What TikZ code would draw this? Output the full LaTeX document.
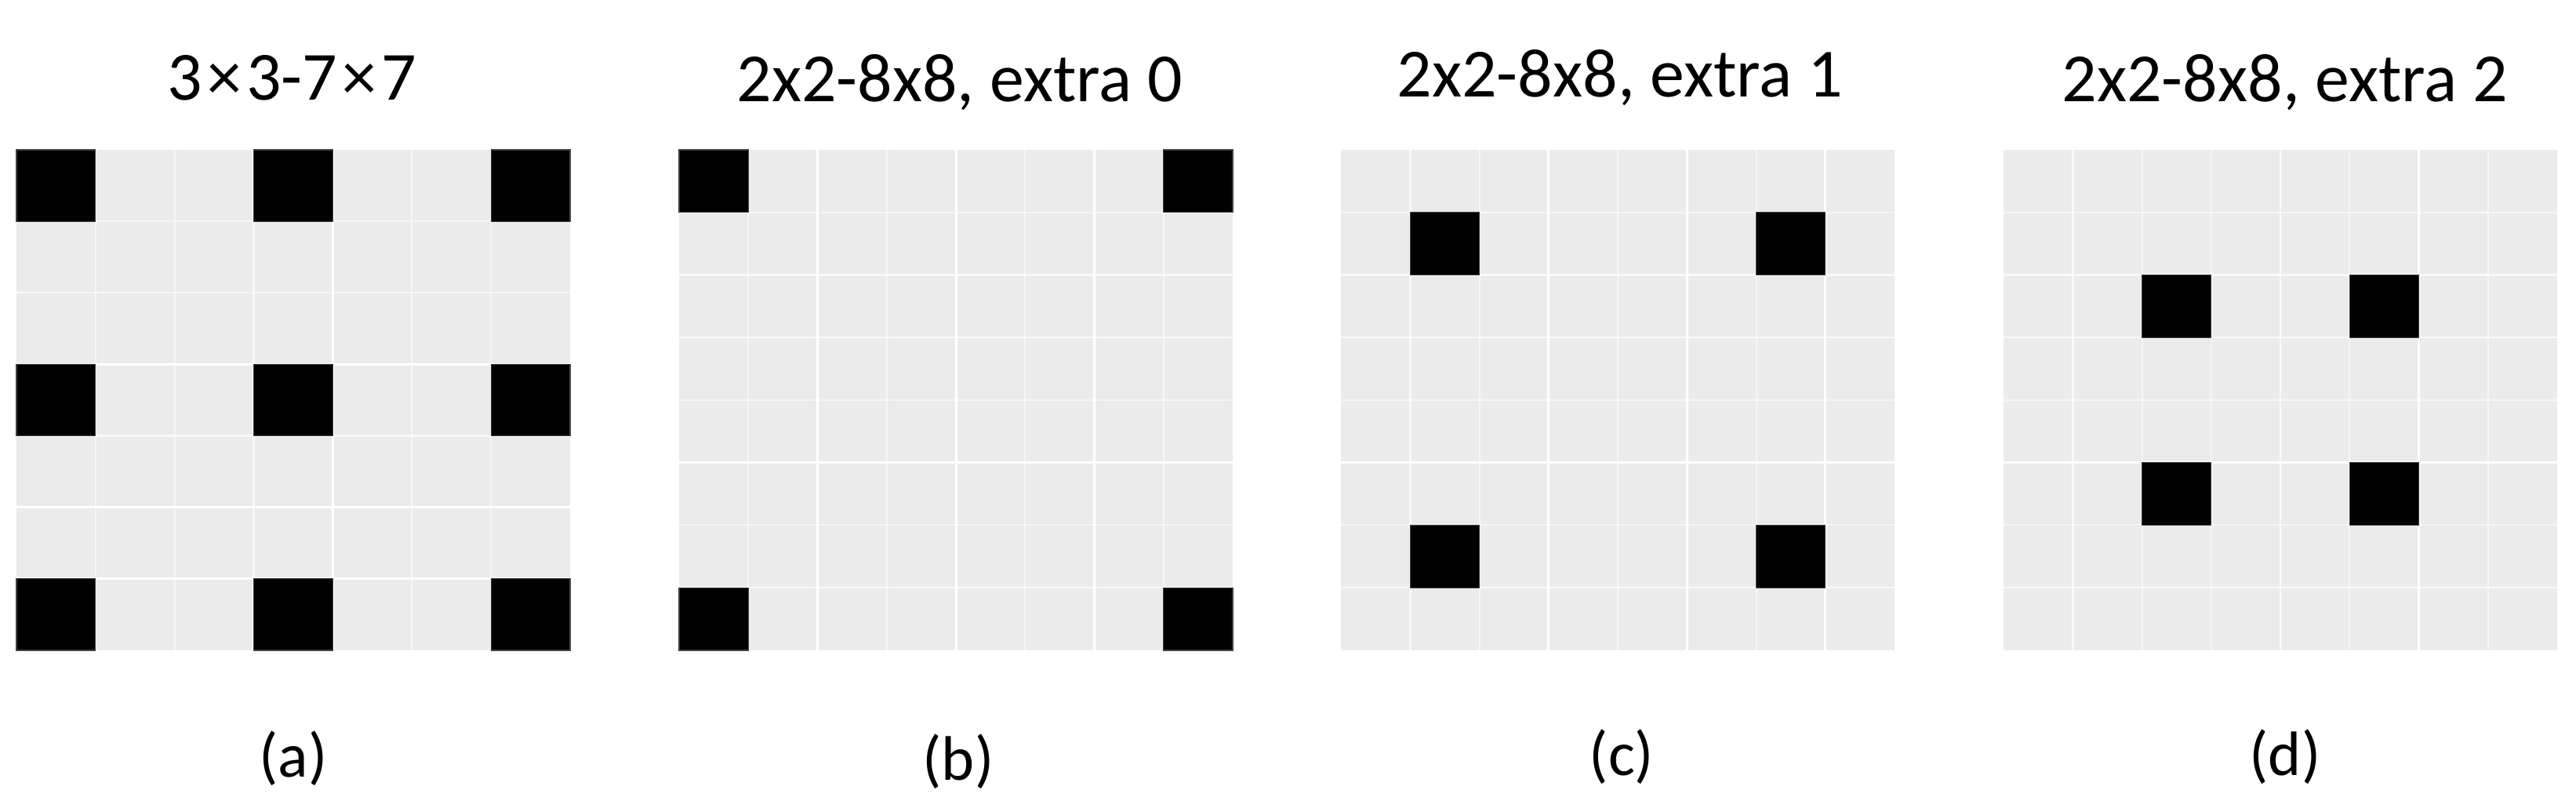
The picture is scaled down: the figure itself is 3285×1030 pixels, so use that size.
\documentclass[tikz,border=0pt]{standalone}
\usepackage{fontspec}
\setmainfont{Carlito}
\definecolor{gridgray}{RGB}{235,235,235}
\tikzset{
  strongline/.style={draw=white, line width=0.3mm},
  midline/.style={draw=white, line width=0.25mm, opacity=0.75},
  faintline/.style={draw=white, line width=0.2mm, opacity=0.5},
  blk/.style={fill=black, draw=black!75, line width=0.12mm},
  ttl/.style={font=\fontsize{25}{30}\selectfont, anchor=base, inner sep=0pt},
  lbl/.style={font=\fontsize{22.8}{27}\selectfont, anchor=base, inner sep=0pt},
}
\newcommand{\tms}{\hspace{0.07em}×\hspace{0.07em}}
\begin{document}
\begin{tikzpicture}[x=0.1mm, y=-0.1mm]
\useasboundingbox (0,0) rectangle (3285,1030);
\fill[white] (0,0) rectangle (3285,1030);

% ---------- panel (a): 7x7 ----------
\begin{scope}[xshift=2.1mm, yshift=-19.1mm, x=10.0857mm, y=-9.1143mm]
  \fill[gridgray] (0,0) rectangle (7,7);
  \foreach \i in {1,2,5,6} \draw[faintline] (\i,0) -- (\i,7);
  \draw[midline] (3,0) -- (3,7);
  \draw[strongline] (4,0) -- (4,7);
  \foreach \j in {1,2} \draw[faintline] (0,\j) -- (7,\j);
  \draw[midline] (0,4) -- (7,4);
  \foreach \j in {3,5,6} \draw[strongline] (0,\j) -- (7,\j);
  \foreach \i in {0,3,6} \foreach \j in {0,3,6}
    \filldraw[blk] (\i,\j) rectangle ++(1,1);
\end{scope}

% ---------- panel (b): 8x8, extra 0 ----------
\begin{scope}[xshift=86.6mm, yshift=-19.1mm, x=8.825mm, y=-7.975mm]
  \fill[gridgray] (0,0) rectangle (8,8);
  \foreach \i in {1,3,5,7} \draw[faintline] (\i,0) -- (\i,8);
  \foreach \i in {2,4,6} \draw[strongline] (\i,0) -- (\i,8);
  \foreach \j in {1,4,6} \draw[faintline] (0,\j) -- (8,\j);
  \foreach \j in {2,3,7} \draw[midline] (0,\j) -- (8,\j);
  \draw[strongline] (0,5) -- (8,5);
  \foreach \i in {0,7} \foreach \j in {0,7}
    \filldraw[blk] (\i,\j) rectangle ++(1,1);
\end{scope}

% ---------- panel (c): 8x8, extra 1 ----------
\begin{scope}[xshift=171.0mm, yshift=-19.1mm, x=8.825mm, y=-7.975mm]
  \fill[gridgray] (0,0) rectangle (8,8);
  \foreach \i in {2,4,6} \draw[faintline] (\i,0) -- (\i,8);
  \draw[midline] (1,0) -- (1,8);
  \foreach \i in {3,5,7} \draw[strongline] (\i,0) -- (\i,8);
  \foreach \j in {1,4,6} \draw[faintline] (0,\j) -- (8,\j);
  \foreach \j in {2,3,7} \draw[midline] (0,\j) -- (8,\j);
  \draw[strongline] (0,5) -- (8,5);
  \foreach \i in {1,6} \foreach \j in {1,6}
    \filldraw[blk] (\i,\j) rectangle ++(1,1);
\end{scope}

% ---------- panel (d): 8x8, extra 2 ----------
\begin{scope}[xshift=255.5mm, yshift=-19.1mm, x=8.825mm, y=-7.975mm]
  \fill[gridgray] (0,0) rectangle (8,8);
  \foreach \i in {2,3,5,7} \draw[faintline] (\i,0) -- (\i,8);
  \foreach \i in {1,4} \draw[midline] (\i,0) -- (\i,8);
  \draw[strongline] (6,0) -- (6,8);
  \foreach \j in {1,4,6} \draw[faintline] (0,\j) -- (8,\j);
  \foreach \j in {2,3,7} \draw[midline] (0,\j) -- (8,\j);
  \draw[strongline] (0,5) -- (8,5);
  \foreach \i in {2,5} \foreach \j in {2,5}
    \filldraw[blk] (\i,\j) rectangle ++(1,1);
\end{scope}

% ---------- titles ----------
\node[ttl] (ta) at (372,128) {3\tms3-7\tms7};
\node[ttl] (tb) at (1224,130) {2x2-8x8, extra 0};
\node[ttl] (tc) at (2066,124) {2x2-8x8, extra 1};
\node[ttl] (td) at (2914,130) {2x2-8x8, extra 2};

% ---------- sub-labels ----------
\node[lbl] (la) at (374,990) {(a)};
\node[lbl] (lb) at (1222,994) {(b)};
\node[lbl] (lc) at (2068,988) {(c)};
\node[lbl] (ld) at (2914,988) {(d)};
\end{tikzpicture}
\end{document}
